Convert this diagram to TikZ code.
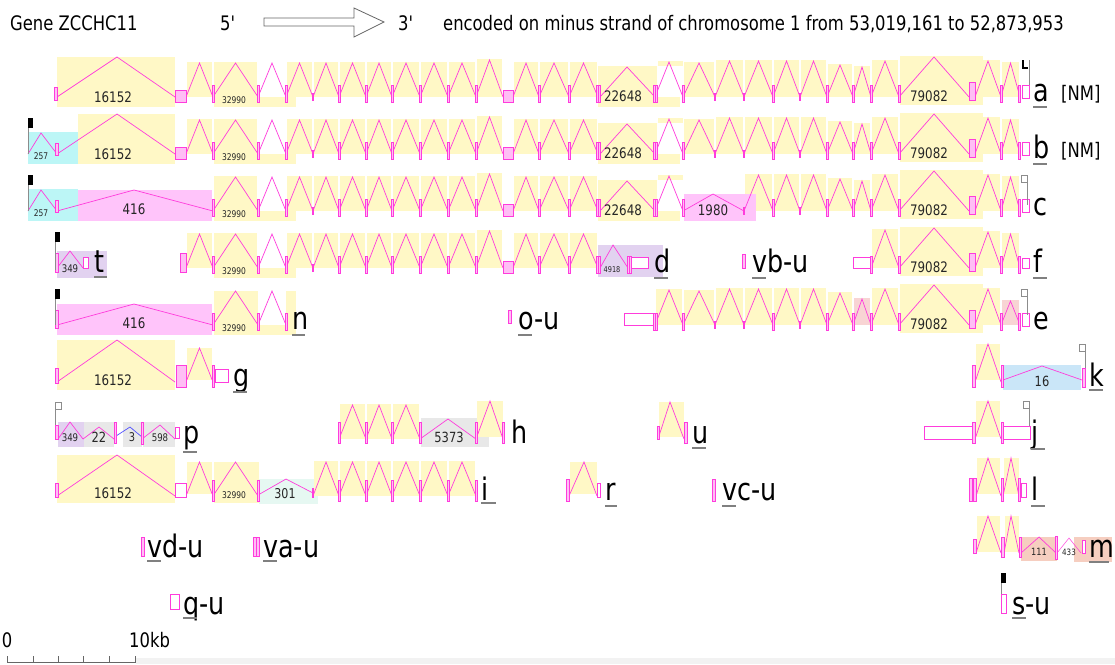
\documentclass[tikz,border=0pt]{standalone}
\usepackage{fontspec}
\setmainfont{DejaVu Sans}
\usepackage{graphicx}
\definecolor{mag}{RGB}{255,60,220}
\definecolor{exf}{RGB}{255,190,245}
\definecolor{ylw}{RGB}{255,248,198}
\definecolor{cyn}{RGB}{188,246,246}
\definecolor{pnk}{RGB}{255,196,250}
\definecolor{prp}{RGB}{226,210,240}
\definecolor{gry}{RGB}{232,232,232}
\definecolor{lbl}{RGB}{202,230,248}
\definecolor{tea}{RGB}{230,248,242}
\definecolor{sal}{RGB}{246,206,192}
\definecolor{ros}{RGB}{248,212,212}
\definecolor{blu}{RGB}{80,80,255}
\newcommand\Tx[2]{\scalebox{0.82}[1]{\fontsize{#1}{#1}\selectfont #2}}
\tikzset{
  ln/.style={draw=mag,line width=0.7pt},
  lnb/.style={draw=blu,line width=0.7pt},
  ex/.style={draw=mag,fill=exf,line width=0.6pt},
  exo/.style={draw=mag,fill=white,line width=0.6pt},
  lab/.style={anchor=base west,inner sep=0pt},
  nm/.style={inner sep=0pt,text=black!85},
  ul/.style={draw=black!50,line width=1.2pt},
  flg/.style={draw=black!45,line width=0.8pt},
}
\def\midrest{213/258/34/ylw,258/286/34/none,286/313/34/ylw,313/339/34/ylw,339/366/34/ylw,366/392/34/ylw,392/420/34/ylw,420/448/34/ylw,448/476/34/ylw,476/503/37/ylw,513/539/34/ylw,539/569/34/ylw,569/598/34/ylw}
\def\midtall{213,258,286,339,366,392,420,448,476,539,569}
\def\midshort{313}
\def\rtlist{655/683/35/none,683/715/34/ylw,715/744/36/ylw,744/773/36/ylw,773/800/36/ylw,800/827/36/ylw,827/853/32/ylw,853/871/30/ylw,871/899/36/ylw,975/1001/36/ylw,1001/1020/34/ylw}
\def\rtlistc{655/683/35/none,744/773/36/ylw,773/800/36/ylw,800/827/36/ylw,827/853/32/ylw,853/871/30/ylw,871/899/36/ylw,975/1001/36/ylw,1001/1020/34/ylw}
\def\rtliste{655/683/35/ylw,683/715/34/ylw,715/744/36/ylw,744/773/36/ylw,773/800/36/ylw,800/827/36/ylw,827/853/32/ylw,853/871/26/ros,871/899/36/ylw,975/1001/36/ylw,1001/1020/24/ros}
\def\rtlistf{871/899/38/ylw,975/1001/36/ylw,1001/1020/34/ylw}
\def\rttall{683,773,827,853,871,899,1001,1019}
\def\rttallf{871,899,1001,1019}
\def\rtshort{715,744,800}
\def\rtshortc{744,800}
\def\ilist{313/339/34/ylw,339/366/34/ylw,366/392/34/ylw,392/420/34/ylw,420/448/34/ylw,448/476/34/ylw}
\def\hlist{339/366/34/ylw,366/392/34/ylw,392/420/34/ylw}
\newcommand\DoBg[1]{\foreach \pa/\pb/\hh/\cl in #1 {\path[fill=\cl] ({\pa+1},{\BL-\hh-1}) rectangle ({\pb-1},\BL);}}
\newcommand\DoV[1]{\foreach \pa/\pb/\hh/\cl in #1 {\draw[ln] (\pa,\BL) -- ({(\pa+\pb)/2},{\BL-\hh}) -- (\pb,\BL);}}
\newcommand\DoT[1]{\foreach \xx in #1 {\draw[ex] ({\xx-1},{\BL-12}) rectangle ({\xx+1},{\BL+5});}}
\newcommand\DoS[1]{\foreach \xx in #1 {\draw[ex] ({\xx-0.5},{\BL-4}) rectangle ({\xx+0.5},{\BL+3});}}
\newcommand\ExD[1]{\draw[ex] ({#1-2},{\BL-12}) rectangle ({#1+2},{\BL+5}); \draw[ln] (#1,{\BL-12}) -- (#1,{\BL+5});}
\newcommand\MidBgFull{\fill[ylw] (187,\BL-35) rectangle (212,\BL); \DoBg{\midrest}\fill[ylw] (214,\BL) rectangle (296,\BL+10);}
\newcommand\MidBgC{\DoBg{\midrest}\fill[ylw] (214,\BL) rectangle (296,\BL+10);}
\newcommand\MidLnFull{\draw[ln] (186,\BL) -- (199.5,\BL-34) -- (213,\BL); \DoV{\midrest}}
\newcommand\MidEx{\DoT{\midtall}\DoS{\midshort}\draw[ex] (503,\BL-7) rectangle (513,\BL+5); \ExD{598}}
\newcommand\GBg{\fill[ylw] (598,\BL-31) rectangle (657,\BL+10); \fill[ylw] (657,\BL) rectangle (680,\BL+10);}
\newcommand\GLn{\draw[ln] (600,\BL) -- (627,\BL-30) -- (655,\BL);}
\newcommand\RtBg[1]{\DoBg{#1}\fill[ylw] (900,\BL-41) rectangle (983,\BL+8);}
\newcommand\RtLn[1]{\DoV{#1}\draw[ln] (899,\BL) -- (934,\BL-40) -- (969,\BL);}
\newcommand\RtEx[1]{\ExD{655}\DoT{\rttall}\DoS{#1}\draw[ex] (969,\BL-15) rectangle (975,\BL+3); \draw[exo] (1022,\BL-12) rectangle (1029,\BL+1);}
\newcommand\Num[5]{\node[nm] (#1) at (#2,\BL+#3) {\Tx{#4}{#5}};}
\newcommand\Lab[5]{\node[lab] (#1) at (#2,\BL+4) {\Tx{31}{#3}}; \draw[ul] (#2,\BL+#4) -- (#2+#5,\BL+#4);}
\newcommand\BFlag[3]{\draw[flg] (#1,#2) -- (#1,#3); \fill[black] (#1,#2) rectangle ({#1+5},{#2+10});}
\newcommand\GFlag[3]{\draw[flg] (#1,{#2+7}) -- (#1,#3); \draw[draw=black!45,line width=0.6pt,fill=white] ({#1-6},#2) rectangle (#1,{#2+7});}
\begin{document}
\begin{tikzpicture}[x=1pt,y=-1pt]
\useasboundingbox (0,0) rectangle (1115,664);
\fill[white] (0,0) rectangle (1115,664);
% ---------- header
\node[lab] (title) at (10,30) {\Tx{20}{Gene ZCCHC11}};
\node[lab] (five) at (220,30) {\Tx{20}{5\textquotesingle}};
\draw[black!60,line width=0.8pt,fill=white] (264,18) -- (354,18) -- (354,8) -- (384,22) -- (354,37) -- (354,26) -- (264,26) -- cycle;
\node[lab] (three) at (398,30) {\Tx{20}{3\textquotesingle}};
\node[lab] (enc) at (443,30) {\Tx{20}{encoded on minus strand of chromosome 1 from 53,019,161 to 52,873,953}};
% ---------- row a
\def\BL{97}
\fill[ylw] (57,\BL-40) rectangle (175,\BL+10);
\MidBgFull \GBg \RtBg{\rtlist}
\fill[ylw] (658,\BL-36) rectangle (683,\BL-31);
\draw[ln] (57,\BL) -- (117,\BL-40) -- (175,\BL);
\MidLnFull \GLn \RtLn{\rtlist}
\draw[ex] (54,\BL-10) rectangle (57,\BL+3);
\draw[ex] (175,\BL-7) rectangle (186,\BL+5);
\MidEx \RtEx{\rtshort}
\draw[flg] (1029,\BL-37) -- (1029,\BL-12);
\draw[black,line width=1.5pt] (1023,\BL-37) -- (1023,\BL-29) -- (1028,\BL-29);
\Num{a16152}{113}{0}{14.5}{16152}
\Num{a32990}{234}{3}{9.2}{32990}
\Num{a22648}{623}{-1}{14.5}{22648}
\Num{a79082}{929}{-1}{14.5}{79082}
\Lab{la}{1033}{a}{10}{14}
\node[lab] (nma) at (1061,\BL+3) {\Tx{20}{[NM]}};
% ---------- row b
\def\BL{154}
\fill[cyn] (28,\BL-22) rectangle (78,\BL+10);
\fill[ylw] (78,\BL-40) rectangle (175,\BL+10);
\MidBgFull \GBg \RtBg{\rtlist}
\fill[ylw] (658,\BL-36) rectangle (683,\BL-31);
\draw[ln] (28,\BL) -- (41,\BL-21) -- (57,\BL);
\draw[ln] (57,\BL) -- (117,\BL-40) -- (175,\BL);
\MidLnFull \GLn \RtLn{\rtlist}
\draw[ex] (55,\BL-11) rectangle (58,\BL+1);
\draw[ex] (175,\BL-7) rectangle (186,\BL+5);
\MidEx \RtEx{\rtshort}
\BFlag{28}{\BL-36}{\BL}
\Num{b257}{41}{2}{9.2}{257}
\Num{b16152}{113}{0}{14.5}{16152}
\Num{b32990}{234}{3}{9.2}{32990}
\Num{b22648}{623}{-1}{14.5}{22648}
\Num{b79082}{929}{-1}{14.5}{79082}
\Lab{lb}{1033}{b}{10}{14}
\node[lab] (nmb) at (1061,\BL+3) {\Tx{20}{[NM]}};
% ---------- row c
\def\BL{211}
\fill[cyn] (28,\BL-22) rectangle (78,\BL+10);
\fill[pnk] (78,\BL-21) rectangle (212,\BL+10);
\MidBgC \GBg \RtBg{\rtlistc}
\fill[ylw] (658,\BL-36) rectangle (683,\BL-31);
\fill[pnk] (684,\BL-17) rectangle (756,\BL+10);
\draw[ln] (28,\BL) -- (41,\BL-21) -- (57,\BL);
\draw[ln] (57,\BL) -- (134,\BL-21) -- (213,\BL);
\DoV{\midrest} \GLn \RtLn{\rtlistc}
\draw[ln] (683,\BL) -- (713,\BL-17) -- (744,\BL);
\draw[ex] (55,\BL-11) rectangle (58,\BL+1);
\MidEx \RtEx{\rtshortc}
\BFlag{28}{\BL-36}{\BL}
\GFlag{1027}{\BL-36}{\BL-6}
\Num{c257}{41}{2}{9.2}{257}
\Num{c416}{134}{-2}{14.5}{416}
\Num{c32990}{234}{3}{9.2}{32990}
\Num{c22648}{623}{-1}{14.5}{22648}
\Num{c1980}{713}{-1}{14.5}{1980}
\Num{c79082}{929}{-1}{14.5}{79082}
\Lab{lc}{1033}{c}{10}{0}
% ---------- row t / d / vb-u / f
\def\BL{268}
\fill[prp] (57,\BL-17) rectangle (107,\BL+10);
\MidBgFull
\fill[prp] (598,\BL-23) rectangle (663,\BL+9);
\RtBg{\rtlistf}
\draw[ln] (57,\BL) -- (70,\BL-17) -- (83,\BL);
\MidLnFull
\draw[ln] (600,\BL) -- (613,\BL-23) -- (628,\BL);
\RtLn{\rtlistf}
\draw[ex] (55,\BL-15) rectangle (58,\BL+4);
\draw[exo] (83,\BL-11) rectangle (88,\BL);
\draw[ex] (180,\BL-15) rectangle (186,\BL+4);
\MidEx
\ExD{629}
\draw[exo] (631,\BL-11) rectangle (648,\BL);
\draw[ex] (742,\BL-14) rectangle (745,\BL);
\draw[exo] (853,\BL-11) rectangle (870,\BL);
\DoT{\rttallf}
\draw[ex] (969,\BL-15) rectangle (975,\BL+3);
\draw[exo] (1022,\BL-10) rectangle (1029,\BL);
\BFlag{55}{\BL-36}{\BL+2}
\Num{t349}{70}{1}{10.5}{349}
\Num{d32990}{234}{3}{9.2}{32990}
\Num{d4918}{612}{2}{8}{4918}
\Num{f79082}{929}{-1}{14.5}{79082}
\Lab{lt}{94}{t}{9}{13}
\Lab{ld}{654}{d}{10}{14}
\Lab{lvb}{752}{vb-u}{10}{14}
\Lab{lf}{1033}{f}{10}{14}
% ---------- row n / o-u / e
\def\BL{325}
\fill[pnk] (57,\BL-21) rectangle (212,\BL+10);
\fill[ylw] (214,\BL-34) rectangle (258,\BL);
\fill[ylw] (214,\BL) rectangle (296,\BL+10);
\fill[ylw] (286,\BL-34) rectangle (296,\BL+10);
\RtBg{\rtliste}
\draw[ln] (57,\BL) -- (134,\BL-21) -- (213,\BL);
\draw[ln] (213,\BL) -- (235.5,\BL-34) -- (258,\BL);
\draw[ln] (258,\BL) -- (272,\BL-34) -- (286,\BL);
\RtLn{\rtliste}
\draw[ex] (55,\BL-15) rectangle (58,\BL+3);
\draw[ex] (212,\BL-12) rectangle (214,\BL+5);
\draw[ex] (257,\BL-12) rectangle (259,\BL+5);
\draw[ex] (285,\BL-12) rectangle (287,\BL+5);
\draw[ex] (508,\BL-15) rectangle (511,\BL-2);
\draw[exo] (624,\BL-12) rectangle (656,\BL);
\RtEx{\rtshort}
\BFlag{55}{\BL-36}{\BL}
\GFlag{1027}{\BL-36}{\BL-10}
\Num{e416}{134}{-2}{14.5}{416}
\Num{e32990}{234}{3}{9.2}{32990}
\Num{e79082}{929}{-1}{14.5}{79082}
\Lab{ln}{292}{n}{10}{13}
\Lab{lou}{518}{o-u}{10}{14}
\Lab{le}{1033}{e}{10}{0}
% ---------- row g / k
\def\BL{382}
\fill[ylw] (57,\BL-42) rectangle (175,\BL+8);
\fill[ylw] (187,\BL-34) rectangle (212,\BL-2);
\fill[ylw] (976,\BL-38) rectangle (1000,\BL-2);
\fill[lbl] (1003,\BL-17) rectangle (1081,\BL+8);
\draw[ln] (57,\BL) -- (117,\BL-42) -- (175,\BL);
\draw[ln] (186,\BL) -- (199.5,\BL-34) -- (213,\BL);
\draw[ln] (975,\BL) -- (988,\BL-38) -- (1001,\BL);
\draw[ln] (1003,\BL-2) -- (1042,\BL-16) -- (1082,\BL-2);
\draw[ex] (55,\BL-14) rectangle (58,\BL+1);
\draw[ex] (176,\BL-17) rectangle (186,\BL+5);
\draw[ex] (212,\BL-17) rectangle (214,\BL+5);
\draw[exo] (215,\BL-13) rectangle (228,\BL);
\draw[ex] (972,\BL-17) rectangle (975,\BL+5);
\draw[ex] (1001,\BL-17) rectangle (1003,\BL+5);
\draw[ex] (1082,\BL-14) rectangle (1085,\BL+5);
\GFlag{1085}{\BL-38}{\BL-14}
\Num{g16152}{113}{-2}{14.5}{16152}
\Num{k16}{1042}{-1}{14}{16}
\Lab{lg}{233}{g}{10}{14}
\Lab{lk}{1089}{k}{8}{14}
% ---------- row p / h / u / j
\def\BL{439}
\fill[prp] (58,\BL-17) rectangle (84,\BL+8);
\fill[gry] (84,\BL-17) rectangle (114,\BL+8);
\fill[gry] (123,\BL-17) rectangle (142,\BL+8);
\fill[gry] (143,\BL-17) rectangle (175,\BL+8);
\DoBg{\hlist}
\fill[gry] (421,\BL-21) rectangle (489,\BL+8);
\fill[ylw] (477,\BL-38) rectangle (503,\BL-2);
\fill[ylw] (659,\BL-37) rectangle (684,\BL-2);
\fill[ylw] (976,\BL-38) rectangle (1000,\BL-2);
\draw[ln] (58,\BL) -- (70,\BL-17) -- (83,\BL);
\draw[ln] (83,\BL) -- (99,\BL-12) -- (114,\BL);
\draw[lnb] (116,\BL-3) -- (130,\BL-12) -- (142,\BL-2);
\draw[ln] (142,\BL) -- (160,\BL-14) -- (175,\BL);
\DoV{\hlist}
\draw[ln] (420,\BL) -- (448,\BL-20) -- (476,\BL);
\draw[ln] (476,\BL) -- (490,\BL-38) -- (503,\BL);
\draw[ln] (658,\BL) -- (670,\BL-37) -- (684,\BL);
\draw[ln] (975,\BL) -- (988,\BL-38) -- (1001,\BL);
\draw[ex] (55,\BL-14) rectangle (58,\BL);
\draw[ex] (114,\BL-17) rectangle (116,\BL+4);
\draw[ex] (141,\BL-17) rectangle (143,\BL+5);
\draw[exo] (175,\BL-12) rectangle (179,\BL-1);
\foreach \xx in {339,366,392,420,476,503}{\draw[ex] ({\xx-1},\BL-17) rectangle ({\xx+1},\BL+4);}
\draw[ex] (657,\BL-13) rectangle (659,\BL);
\draw[ex] (684,\BL-17) rectangle (687,\BL+4);
\draw[exo] (924,\BL-13) rectangle (972,\BL);
\draw[ex] (972,\BL-17) rectangle (975,\BL+4);
\draw[ex] (1001,\BL-17) rectangle (1003,\BL+4);
\draw[exo] (1003,\BL-13) rectangle (1030,\BL);
\GFlag{61}{\BL-37}{\BL-31}
\draw[flg] (55,\BL-31) -- (55,\BL-14);
\GFlag{1029}{\BL-38}{\BL-13}
\Num{p349}{70}{-1}{10.5}{349}
\Num{p22}{99}{-2}{14}{22}
\Num{p3}{132}{-2}{12}{3}
\Num{p598}{160}{-1}{10.5}{598}
\Num{h5373}{449}{-2}{14}{5373}
\Lab{lp}{183}{p}{13}{14}
\Lab{lh}{511}{h}{10}{0}
\Lab{lu}{692}{u}{9}{14}
\Lab{lj}{1031}{j}{10}{14}
% ---------- row i / r / vc-u / l
\def\BL{496}
\fill[ylw] (57,\BL-41) rectangle (175,\BL+7);
\fill[ylw] (187,\BL-34) rectangle (212,\BL-2);
\fill[ylw] (214,\BL-34) rectangle (259,\BL+7);
\fill[tea] (259,\BL-17) rectangle (318,\BL+8);
\DoBg{\ilist}
\fill[ylw] (570,\BL-34) rectangle (597,\BL-2);
\fill[ylw] (977,\BL-38) rectangle (1000,\BL-2);
\fill[ylw] (1004,\BL-38) rectangle (1019,\BL-2);
\draw[ln] (57,\BL) -- (117,\BL-41) -- (175,\BL);
\draw[ln] (186,\BL) -- (199.5,\BL-34) -- (213,\BL);
\draw[ln] (213,\BL) -- (235.5,\BL-34) -- (258,\BL);
\draw[ln] (258,\BL-1) -- (286,\BL-17) -- (313,\BL-3);
\DoV{\ilist}
\draw[ln] (569,\BL) -- (584,\BL-34) -- (597,\BL);
\draw[ln] (976,\BL) -- (988,\BL-38) -- (1001,\BL);
\draw[ln] (1003,\BL) -- (1011,\BL-38) -- (1019,\BL);
\draw[ex] (55,\BL-13) rectangle (58,\BL+1);
\draw[exo] (175,\BL-13) rectangle (186,\BL+1);
\draw[ex] (212,\BL-16) rectangle (214,\BL+5);
\draw[ex] (257,\BL-16) rectangle (259,\BL+5);
\draw[ex] (312.5,\BL-8) rectangle (313.5,\BL+1);
\foreach \xx in {339,366,392,420,448,476}{\draw[ex] ({\xx-1},\BL-16) rectangle ({\xx+1},\BL+5);}
\draw[ex] (566,\BL-17) rectangle (569,\BL+5);
\draw[exo] (597,\BL-13) rectangle (600,\BL+1);
\draw[ex] (712,\BL-17) rectangle (715,\BL+5);
\draw[ex] (969,\BL-18) rectangle (972,\BL+5);
\draw[ex] (973,\BL-18) rectangle (976,\BL+5);
\draw[ex] (1001,\BL-18) rectangle (1003,\BL+5);
\draw[ex] (1018,\BL-18) rectangle (1020,\BL+5);
\draw[exo] (1021,\BL-13) rectangle (1026,\BL+1);
\Num{i16152}{113}{-3}{14.5}{16152}
\Num{i32990}{234}{-1}{9.2}{32990}
\Num{i301}{285}{-2}{13.5}{301}
\Lab{li}{481}{i}{7}{15}
\Lab{lr}{605}{r}{10}{12}
\Lab{lvc}{722}{vc-u}{10}{14}
\Lab{ll}{1031}{l}{10}{14}
% ---------- row vd-u / va-u / m
\def\BL{553}
\fill[ylw] (977,\BL-37) rectangle (1000,\BL-1);
\fill[ylw] (1005,\BL-37) rectangle (1019,\BL-1);
\fill[sal] (1021,\BL-16) rectangle (1057,\BL+8);
\fill[sal] (1074,\BL-16) rectangle (1112,\BL+9);
\draw[ln] (976,\BL) -- (988,\BL-37) -- (1001,\BL);
\draw[ln] (1004,\BL) -- (1011,\BL-37) -- (1019,\BL);
\draw[ln] (1021,\BL) -- (1039,\BL-16) -- (1056,\BL);
\draw[draw=mag,line width=0.5pt] (1057,\BL) -- (1069,\BL-15) -- (1081,\BL);
\draw[ex] (141,\BL-16) rectangle (144,\BL+3);
\draw[ex] (253,\BL-16) rectangle (259,\BL+3);
\draw[ln] (256,\BL-16) -- (256,\BL+3);
\draw[ex] (973,\BL-14) rectangle (976,\BL);
\draw[ex] (1001,\BL-16) rectangle (1004,\BL+4);
\draw[ex] (1019,\BL-16) rectangle (1021,\BL+4);
\draw[ex] (1055,\BL-17) rectangle (1057,\BL+6);
\draw[exo] (1082,\BL-13) rectangle (1085,\BL);
\Num{m111}{1039}{-1}{10}{111}
\Num{m433}{1069}{-1}{8.7}{433}
\Lab{lvd}{147}{vd-u}{8}{14}
\Lab{lva}{263}{va-u}{8}{14}
\Lab{lm}{1089}{m}{9}{20}
% ---------- row q-u / s-u
\def\BL{610}
\draw[exo] (170,\BL-16) rectangle (179,\BL-1);
\draw[ln] (170,\BL-16) -- (170,\BL-1);
\BFlag{1001}{\BL-37}{\BL-10}
\draw[exo] (1001,\BL-16) rectangle (1006,\BL+3);
\Lab{lq}{183}{q-u}{8}{14}
\Lab{ls}{1012}{s-u}{8}{14}
% ---------- scale bar
\fill[black!5] (136,658) rectangle (1115,664);
\draw[black!60,line width=0.8pt] (7,662) -- (136,662);
\foreach \xx in {7,33,58,83,109,135}{\draw[black!60,line width=0.8pt] (\xx,656) -- (\xx,662);}
\node[anchor=base] (zero) at (7,647) {\Tx{20}{0}};
\node[lab] (tenkb) at (129,647) {\Tx{20}{10kb}};
\end{tikzpicture}
\end{document}
